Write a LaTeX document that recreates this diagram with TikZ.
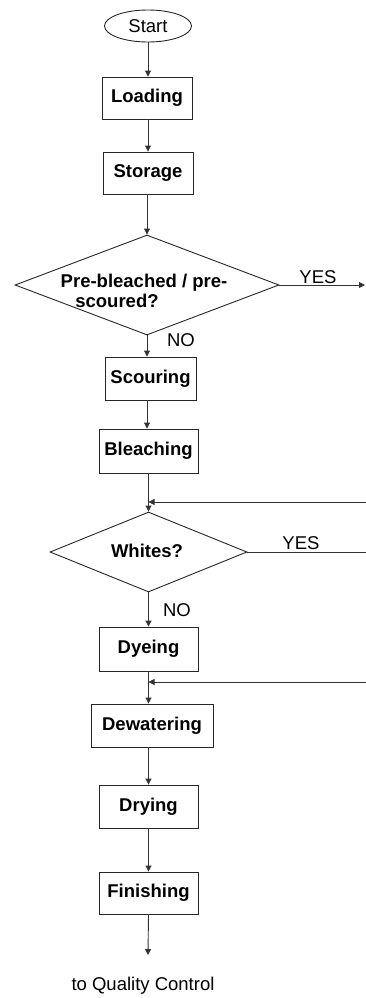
\documentclass[tikz,border=0pt]{standalone}
\usepackage{fontspec}
\setmainfont{Liberation Sans}
\usetikzlibrary{shapes.geometric,arrows.meta}
\begin{document}
\begin{tikzpicture}[x=1pt,y=-1pt,
  line width=0.9pt,
  every node/.style={font=\fontsize{18.5}{20}\selectfont},
  procbox/.style={draw=black!85,rectangle,inner sep=0pt,font=\fontsize{18.5}{20}\selectfont\bfseries},
  decision/.style={draw=black!85,diamond,inner sep=0pt},
  flow/.style={draw=black!80,-{Triangle[length=6pt,width=6pt]}},
  plain/.style={draw=black!80},
  lbl/.style={inner sep=0pt}
]
\useasboundingbox (0,0) rectangle (366,998);

% process steps
\node[draw=black!85,ellipse,minimum width=87pt,minimum height=32pt,inner sep=0pt] (start) at (148,26) {Start};
\node[procbox,minimum width=90pt,minimum height=42pt] (load) at (147,98) {Loading};
\node[procbox,minimum width=90pt,minimum height=42pt] (stor) at (148,173) {Storage};
\node[decision,minimum width=264pt,minimum height=100pt] (d1) at (147,285) {};
\node[lbl,align=center,font=\fontsize{18.5}{20}\selectfont\bfseries] (d1t) at (144,291) {Pre-bleached / pre-\\scoured?\hspace*{54pt}};
\node[procbox,minimum width=91pt,minimum height=43pt] (scour) at (150.5,378.5) {Scouring};
\node[procbox,minimum width=99pt,minimum height=44pt] (bleach) at (148.5,451) {Bleaching};
\node[decision,minimum width=197pt,minimum height=80pt] (d2) at (148.5,552) {};
\node[lbl,font=\fontsize{18.5}{20}\selectfont\bfseries] (d2t) at (147,551) {Whites?};
\node[procbox,minimum width=99pt,minimum height=44pt] (dye) at (148.5,649) {Dyeing};
\node[procbox,minimum width=122pt,minimum height=43pt] (dewat) at (152,725.5) {Dewatering};
\node[procbox,minimum width=99pt,minimum height=43pt] (dry) at (148.5,806.5) {Drying};
\node[procbox,minimum width=99pt,minimum height=42pt] (fin) at (148.5,893) {Finishing};
\node[lbl] (qc) at (143,986) {to Quality Control};

% branch labels
\node[lbl] (yes1) at (318,277) {YES};
\node[lbl] (no1) at (181,340) {NO};
\node[lbl] (yes2) at (301,543) {YES};
\node[lbl] (no2) at (177,610) {NO};

% loose ends at the right margin
\coordinate (out1) at (365,285);
\coordinate (out2) at (366,552);
\coordinate (ret1) at (366,502);
\coordinate (ret2) at (366,682);
\coordinate (qcend) at (148,955);

% main flow
\draw[flow] (start) -- (start |- load.north);
\draw[flow] (load.south -| stor) -- (stor.north);
\draw[flow] (stor.south -| d1.north) -- (d1.north);
\draw[flow] (d1.south) -- (d1.south |- scour.north);
\draw[flow] (d1.south |- scour.south) -- (d1.south |- bleach.north);
\draw[flow] (bleach.south) -- (d2.north);
\draw[flow] (d2.south) -- (dye.north);
\draw[flow] (dye.south) -- (dye.south |- dewat.north);
\draw[flow] (dry.north |- dewat.south) -- (dry.north);
\draw[flow] (dry.south) -- (fin.north);
\draw[flow] (fin.south) -- (qcend);

% decision exits and return paths
\draw[flow] (d1.east) -- (out1);
\draw[plain] (d2.east) -- (out2);
\draw[flow] (ret1) -- (bleach.south |- ret1);
\draw[flow] (ret2) -- (dye.south |- ret2);
\end{tikzpicture}
\end{document}
